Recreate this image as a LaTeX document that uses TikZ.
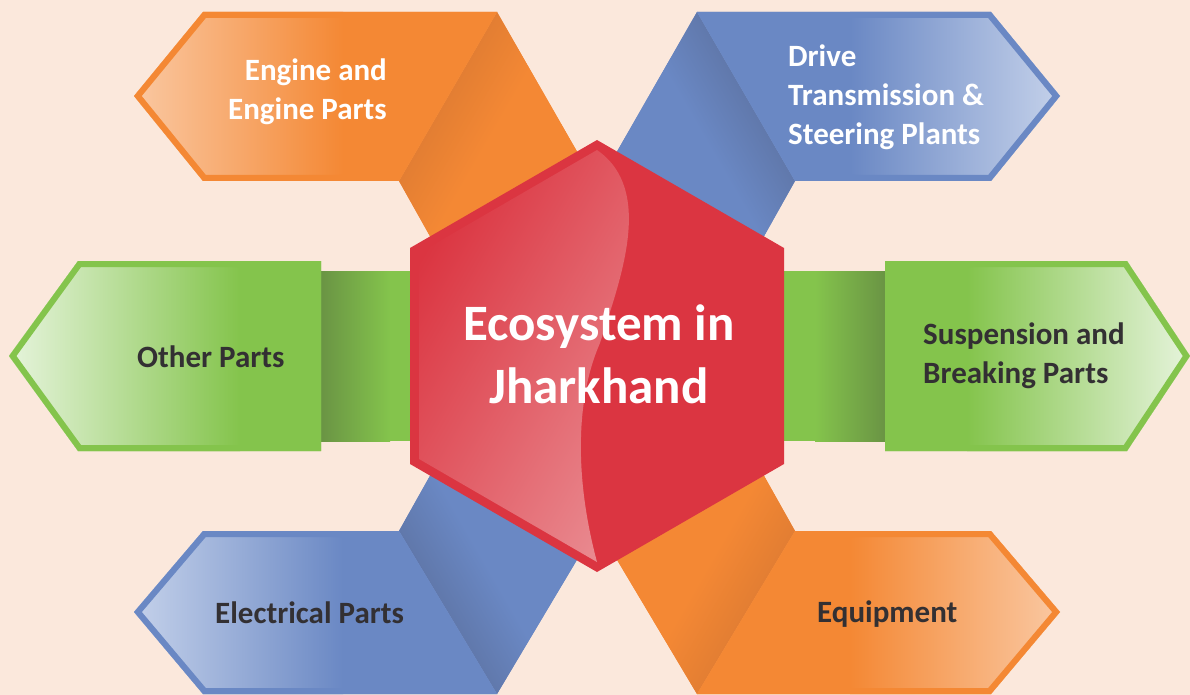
\documentclass[tikz,border=0pt]{standalone}
\usepackage{fontspec}
\setmainfont{Carlito}

\definecolor{peach}{HTML}{FBE8DC}
\definecolor{orangeC}{HTML}{F48834}
\definecolor{orangeL}{HTML}{FAC8A2}
\definecolor{orangeD}{HTML}{D57632}
\definecolor{blueC}{HTML}{6A88C4}
\definecolor{blueL}{HTML}{C4D1EA}
\definecolor{blueD}{HTML}{596C98}
\definecolor{greenC}{HTML}{84C44C}
\definecolor{greenL}{HTML}{E6F4DC}
\definecolor{greenD}{HTML}{6A9444}
\definecolor{redC}{HTML}{DB3541}
\definecolor{redL}{HTML}{E9898F}
\definecolor{inkgray}{HTML}{333033}

\tikzset{
  rim/.style={line width=12pt, line join=miter},
  parttext/.style={font=\bfseries\fontsize{31}{39}\selectfont, inner sep=0pt},
  ecotext/.style={font=\bfseries\fontsize{51}{63}\selectfont, inner sep=0pt, white, align=center}
}

\begin{document}
\begin{tikzpicture}[x=1pt,y=-1pt]
  \fill[peach] (0,0) rectangle (1190,695);
  \useasboundingbox (0,0) rectangle (1190,695);

  \fill[orangeC] (497,12) -- (399,181) -- (440,254) -- (587,169) -- cycle;
  \shade[top color=orangeD, bottom color=orangeC, middle color=orangeC, shading angle=60]
    (497,12) -- (399,181) -- (440,254) -- (587,169) -- cycle;
  \fill[blueC] (697,12) -- (795,181) -- (754,254) -- (607,169) -- cycle;
  \shade[top color=blueD, bottom color=blueC, middle color=blueC, shading angle=-60]
    (697,12) -- (795,181) -- (754,254) -- (607,169) -- cycle;
  \fill[blueC] (497,694) -- (399,531) -- (440,458) -- (587,543) -- cycle;
  \shade[top color=blueD, bottom color=blueC, middle color=blueC, shading angle=120]
    (497,694) -- (399,531) -- (440,458) -- (587,543) -- cycle;
  \fill[orangeC] (697,694) -- (795,531) -- (754,458) -- (607,543) -- cycle;
  \shade[top color=orangeD, bottom color=orangeC, middle color=orangeC, shading angle=-120]
    (697,694) -- (795,531) -- (754,458) -- (607,543) -- cycle;
  \fill[greenC] (321,271) rectangle (415,441);
  \shade[left color=greenD, right color=greenC] (321,271) rectangle (390,441);
  \fill[greenC] (780,271) rectangle (885,441);
  \shade[left color=greenC, right color=greenD] (815,271) rectangle (885,441);

  \begin{scope}
    \clip (497,12) -- (203,12) -- (134,96) -- (203,181) -- (399,181) -- cycle;
    \fill[orangeC] (130,0) rectangle (500,190);
    \shade[left color=orangeL, right color=orangeC] (134,0) rectangle (343,190);
    \draw[orangeC, rim] (497,12) -- (203,12) -- (134,96) -- (203,181) -- (399,181) -- cycle;
  \end{scope}
  \begin{scope}
    \clip (697,12) -- (991,12) -- (1060,96) -- (991,181) -- (795,181) -- cycle;
    \fill[blueC] (690,0) rectangle (1065,190);
    \shade[left color=blueC, right color=blueL] (850,0) rectangle (1060,190);
    \draw[blueC, rim] (697,12) -- (991,12) -- (1060,96) -- (991,181) -- (795,181) -- cycle;
  \end{scope}
  \begin{scope}
    \clip (321,261) -- (78,261) -- (9,356) -- (78,451) -- (321,451) -- cycle;
    \fill[greenC] (5,255) rectangle (325,455);
    \shade[left color=greenL, right color=greenC] (9,255) rectangle (240,455);
    \draw[greenC, rim] (321,261) -- (78,261) -- (9,356) -- (78,451) -- (321,451) -- cycle;
  \end{scope}
  \begin{scope}
    \clip (885,261) -- (1127,261) -- (1190,356) -- (1127,451) -- (885,451) -- cycle;
    \fill[greenC] (880,255) rectangle (1190,455);
    \shade[left color=greenC, right color=greenL] (967,255) rectangle (1190,455);
    \draw[greenC, rim] (885,261) -- (1127,261) -- (1190,356) -- (1127,451) -- (885,451) -- cycle;
  \end{scope}
  \begin{scope}
    \clip (399,531) -- (203,531) -- (134,612) -- (203,694) -- (497,694) -- cycle;
    \fill[blueC] (130,525) rectangle (500,695);
    \shade[left color=blueL, right color=blueC] (134,525) rectangle (343,695);
    \draw[blueC, rim] (399,531) -- (203,531) -- (134,612) -- (203,694) -- (497,694) -- cycle;
  \end{scope}
  \begin{scope}
    \clip (795,531) -- (991,531) -- (1060,612) -- (991,694) -- (697,694) -- cycle;
    \fill[orangeC] (690,525) rectangle (1065,695);
    \shade[left color=orangeC, right color=orangeL] (850,525) rectangle (1060,695);
    \draw[orangeC, rim] (795,531) -- (991,531) -- (1060,612) -- (991,694) -- (697,694) -- cycle;
  \end{scope}

  \fill[redC] (597,140) -- (784,248) -- (784,464) -- (597,572) -- (410,464) -- (410,248) -- cycle;
  \shade[top color=redC, bottom color=redL, shading angle=60]
    (597,150) -- (419,253) -- (419,459) -- (597,562)
    .. controls (575,480) and (575,400) .. (600,343)
    .. controls (620,280) and (655,190) .. (597,150) -- cycle;

  \node[ecotext, anchor=base] (eco) at (599,403) {Ecosystem in\\Jharkhand};
  \node[parttext, white, align=right, anchor=base east] (engine) at (387,120) {Engine and\\Engine Parts};
  \node[parttext, white, align=left, anchor=base west] (drive) at (788,145) {Drive\\Transmission \&\\Steering Plants};
  \node[parttext, inkgray, anchor=base west] (other) at (137,367) {Other Parts};
  \node[parttext, inkgray, align=left, anchor=base west] (susp) at (923,383) {Suspension and\\Breaking Parts};
  \node[parttext, inkgray, anchor=base west] (elec) at (215,623) {Electrical Parts};
  \node[parttext, inkgray, anchor=base west] (equip) at (817,622) {Equipment};
\end{tikzpicture}
\end{document}
